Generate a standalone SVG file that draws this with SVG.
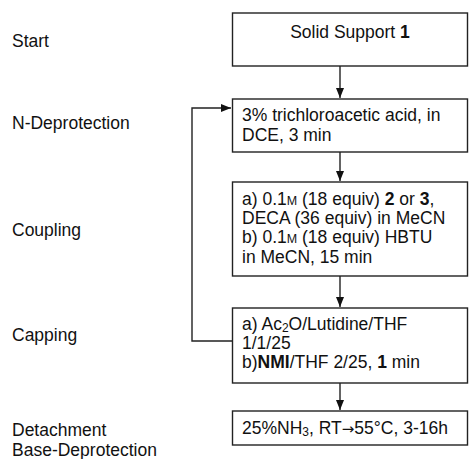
<svg xmlns="http://www.w3.org/2000/svg" width="469" height="459" viewBox="0 0 469 459">
<defs>
<style>
text{font-family:"Liberation Sans",Arial,sans-serif;font-size:17.5px;fill:#111}
.box{fill:#fff;stroke:#222;stroke-width:1.4}
.ln{fill:none;stroke:#222;stroke-width:1.4}
.b{font-weight:bold}
.sm{font-size:12.5px}
.sub{font-size:12px}
.arr{font-family:"DejaVu Sans",sans-serif;font-size:15px}
</style>
<marker id="ah" viewBox="0 0 10 8" refX="10" refY="4" markerWidth="10" markerHeight="8" markerUnits="userSpaceOnUse" orient="auto">
<path d="M0,0 L10,4 L0,8 Z" fill="#111"/>
</marker>
</defs>
<rect width="469" height="459" fill="#fff"/>
<g id="labels">
<text x="12" y="47">Start</text>
<text x="12" y="129">N-Deprotection</text>
<text x="12" y="236">Coupling</text>
<text x="12" y="341">Capping</text>
<text x="12" y="436">Detachment</text>
<text x="12" y="456">Base-Deprotection</text>
</g>
<g id="connectors">
<line class="ln" x1="340" y1="66" x2="340" y2="98" marker-end="url(#ah)"/>
<line class="ln" x1="340" y1="152" x2="340" y2="181" marker-end="url(#ah)"/>
<line class="ln" x1="340" y1="276" x2="340" y2="307" marker-end="url(#ah)"/>
<line class="ln" x1="340" y1="383" x2="340" y2="410" marker-end="url(#ah)"/>
<polyline class="ln" points="232,341 192,341 192,108 231,108" marker-end="url(#ah)"/>
</g>
<g id="n1">
<rect class="box" x="232.5" y="13" width="235" height="53"/>
<text x="350" y="38" text-anchor="middle">Solid Support <tspan class="b">1</tspan></text>
</g>
<g id="n2">
<rect class="box" x="232.5" y="99" width="235" height="53"/>
<text x="242" y="121">3% trichloroacetic acid, in</text>
<text x="242" y="141">DCE, 3 min</text>
</g>
<g id="n3">
<rect class="box" x="232.5" y="182" width="235" height="94"/>
<text x="242" y="205">a) 0.1<tspan class="sm">M</tspan>  (18 equiv) <tspan class="b">2</tspan> or <tspan class="b">3</tspan>,</text>
<text x="242" y="224">DECA (36 equiv) in MeCN</text>
<text x="242" y="243">b) 0.1<tspan class="sm">M</tspan> (18 equiv) HBTU</text>
<text x="242" y="263">in MeCN, 15 min</text>
</g>
<g id="n4">
<rect class="box" x="232.5" y="308" width="235" height="75"/>
<text x="242" y="330">a) Ac<tspan class="sub" dy="2">2</tspan><tspan dy="-2">O/Lutidine/THF</tspan></text>
<text x="242" y="349">1/1/25</text>
<text x="242" y="368">b)<tspan class="b">NMI</tspan>/THF 2/25, <tspan class="b">1</tspan> min</text>
</g>
<g id="n5">
<rect class="box" x="232.5" y="411" width="235" height="34"/>
<text x="242" y="434">25%NH<tspan class="sub" dy="2">3</tspan><tspan dy="-2">, RT</tspan><tspan class="arr">→</tspan>55°C, 3-16h</text>
</g>
</svg>
